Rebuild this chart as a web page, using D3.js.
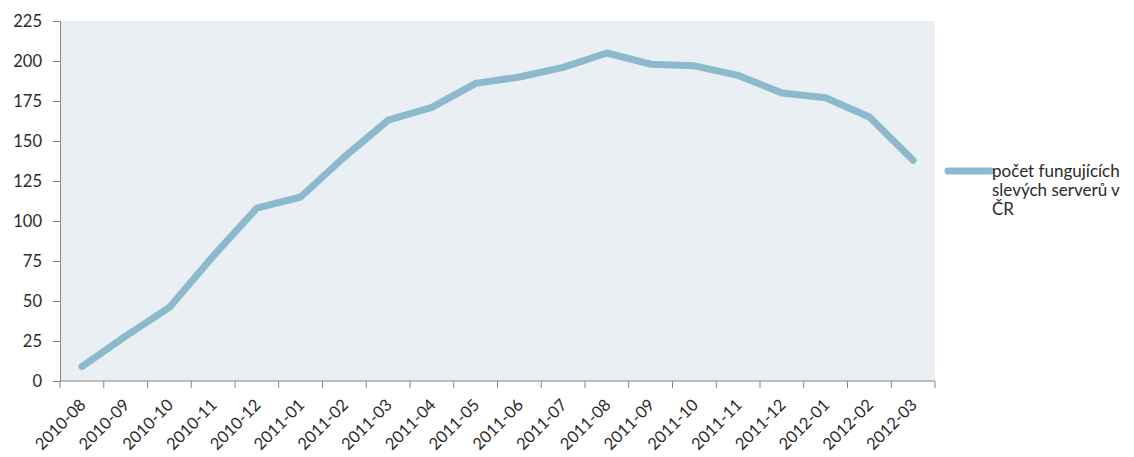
<!DOCTYPE html>
<html>
<head>
<meta charset="utf-8">
<script src="https://cdn.jsdelivr.net/npm/d3@7"></script>
<style>
  body { margin: 0; background: #fff; }
  text { font-family: Lato, "Open Sans", sans-serif; fill: #2a2a2a; }
</style>
</head>
<body>
<div id="chart"></div>
<script>
// data
var months = ['2010-08', '2010-09', '2010-10', '2010-11', '2010-12', '2011-01', '2011-02',
  '2011-03', '2011-04', '2011-05', '2011-06', '2011-07', '2011-08', '2011-09', '2011-10',
  '2011-11', '2011-12', '2012-01', '2012-02', '2012-03'];
var servers = [9, 28, 46, 78, 108, 115, 140, 163, 171, 186, 190, 196, 205, 198, 197, 191, 180, 177, 165, 138];
var y_ticks = [0, 25, 50, 75, 100, 125, 150, 175, 200, 225];
var legend_lines = ['počet fungujících', 'slevých serverů v', 'ČR'];

var chart_width = 1134;
var chart_height = 457;
var plot_left = 60, plot_right = 935, plot_top = 21, plot_bottom = 381;
var font_size = '16.5px';

var svg = d3.select('#chart')
  .append('svg')
  .attr('width', chart_width)
  .attr('height', chart_height);

var x_scale = d3.scaleBand()
  .domain(months)
  .range([plot_left, plot_right]);

var y_scale = d3.scaleLinear()
  .domain([0, 225])
  .range([plot_bottom, plot_top]);

// plot background
svg.append('rect')
  .attr('x', plot_left)
  .attr('y', plot_top)
  .attr('width', plot_right - plot_left)
  .attr('height', plot_bottom - plot_top)
  .attr('fill', '#e9eff3');

// y axis
var y_axis = d3.axisLeft(y_scale)
  .tickValues(y_ticks)
  .tickSize(7)
  .tickPadding(11);
var gy = svg.append('g')
  .attr('transform', 'translate(' + plot_left + ',0)')
  .call(y_axis);
gy.select('.domain').attr('stroke', '#868686');
gy.selectAll('.tick line').attr('stroke', '#868686');
gy.selectAll('.tick text')
  .style('font-size', font_size)
  .style('font-family', 'Lato, sans-serif')
  .attr('fill', '#2a2a2a');

// x axis, ticks at category boundaries
var gx = svg.append('g')
  .attr('transform', 'translate(0,' + plot_bottom + ')');
gx.append('line')
  .attr('x1', plot_left).attr('x2', plot_right)
  .attr('stroke', '#868686');
var bounds = months.map(function(m) { return x_scale(m); }).concat([plot_right]);
gx.selectAll('.bt')
  .data(bounds)
  .enter()
  .append('line')
  .attr('x1', function(d) { return d; })
  .attr('x2', function(d) { return d; })
  .attr('y1', 0)
  .attr('y2', 7)
  .attr('stroke', '#868686');
gx.selectAll('.lbl')
  .data(months)
  .enter()
  .append('text')
  .text(function(d) { return d; })
  .attr('text-anchor', 'end')
  .style('font-size', font_size)
  .attr('transform', function(d) {
    var cx = x_scale(d) + x_scale.bandwidth() / 2 + 5;
    return 'translate(' + cx + ',25) rotate(-45)';
  });

// line
var line = d3.line()
  .x(function(d, i) { return x_scale(months[i]) + x_scale.bandwidth() / 2; })
  .y(function(d) { return y_scale(d); });
svg.append('path')
  .datum(servers)
  .attr('d', line)
  .attr('fill', 'none')
  .attr('stroke', '#8cb9cc')
  .attr('stroke-width', 7)
  .attr('stroke-linecap', 'round')
  .attr('stroke-linejoin', 'round');

// legend
svg.append('line')
  .attr('x1', 948).attr('x2', 991)
  .attr('y1', 171).attr('y2', 171)
  .attr('stroke', '#8cb9cc')
  .attr('stroke-width', 7)
  .attr('stroke-linecap', 'round');
svg.selectAll('.leg')
  .data(legend_lines)
  .enter()
  .append('text')
  .text(function(d) { return d; })
  .attr('x', 992)
  .attr('y', function(d, i) { return 177 + i * 19; })
  .style('font-size', '17px');
</script>
</body>
</html>
